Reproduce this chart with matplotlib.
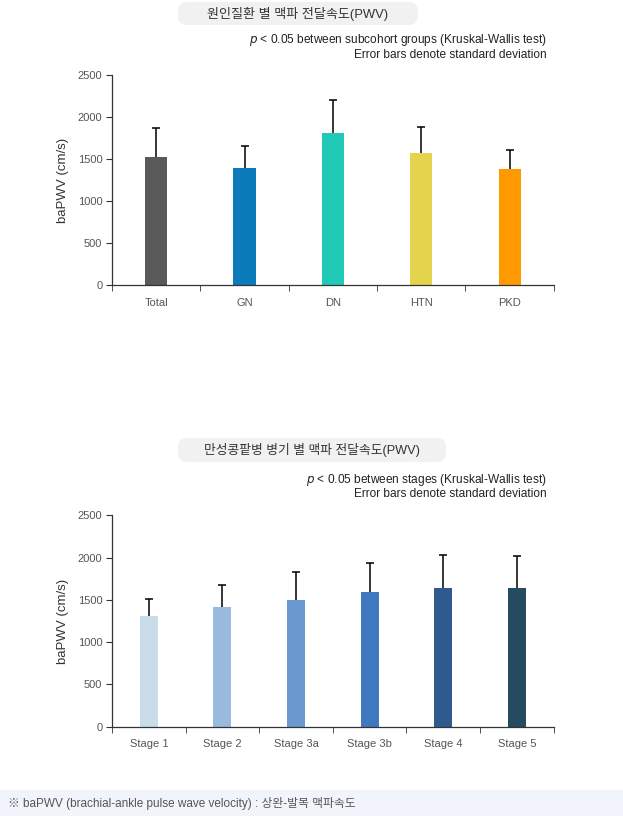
import matplotlib.pyplot as plt
from matplotlib.patches import FancyBboxPatch, Rectangle

plt.rcParams['font.family'] = ['Liberation Sans', 'Noto Sans CJK KR', 'DejaVu Sans']

# subcohort groups
groups = ["Total", "GN", "DN", "HTN", "PKD"]
group_mean = [1520, 1390, 1810, 1570, 1380]
group_sd = [345, 262, 390, 306, 222]
group_colors = ["#595959", "#0b7cb9", "#1fc9b5", "#e4d34c", "#ff9900"]

# CKD stages
stages = ["Stage 1", "Stage 2", "Stage 3a", "Stage 3b", "Stage 4", "Stage 5"]
stage_mean = [1310, 1415, 1500, 1595, 1640, 1640]
stage_sd = [198, 257, 327, 338, 387, 375]
stage_colors = ["#c9dcea", "#99b9de", "#6a98cf", "#3f78c1", "#2f5a8d", "#254b61"]

yticks = [0, 500, 1000, 1500, 2000, 2500]


def bar_panel(ax, labels, means, sds, colors, width):
    x = list(range(len(labels)))
    ax.bar(x, means, width=width, color=colors, zorder=2)
    eb = ax.errorbar(x, means, yerr=[[0] * len(sds), sds], fmt="none",
                     ecolor="black", elinewidth=1.1, capsize=2.8, capthick=1.1, zorder=3)
    # only the upper cap is drawn in the original
    eb.lines[1][0].set_visible(False)
    ax.set_xlim(-0.5, len(labels) - 0.5)
    ax.set_ylim(0, 2500)
    ax.set_yticks(yticks)
    ax.set_xticks(x)
    ax.set_xticklabels(labels)
    ax.set_xticks([i - 0.5 for i in range(len(labels) + 1)], minor=True)
    ax.tick_params(axis="x", which="major", length=0, pad=9)
    ax.tick_params(axis="x", which="minor", length=4, color="#333333")
    ax.tick_params(axis="y", length=4, color="#333333", pad=3)
    ax.tick_params(labelsize=8, labelcolor="#555555")
    for s in ["top", "right"]:
        ax.spines[s].set_visible(False)
    for s in ["left", "bottom"]:
        ax.spines[s].set_color("#333333")
        ax.spines[s].set_linewidth(0.9)
    ax.set_ylabel("baPWV (cm/s)", fontsize=9.5, color="#333333", labelpad=6)


def pill(fig, x0, y0, w, h, text, cx, size):
    W, H = 623, 816
    p = FancyBboxPatch((x0 / W, 1 - (y0 + h) / H), w / W, h / H,
                       boxstyle="round,pad=0,rounding_size=0.015",
                       transform=fig.transFigure, facecolor="#f1f1f1",
                       edgecolor="none", mutation_aspect=W / H)
    fig.patches.append(p)
    fig.text(cx / W, 1 - (y0 + h / 2) / H, text, ha="center", va="center",
             fontsize=size, color="#333333")


fig = plt.figure(figsize=(6.23, 8.16), dpi=100)

ax1 = fig.add_axes([0.1798, 0.6507, 0.709, 0.2574])
bar_panel(ax1, groups, group_mean, group_sd, group_colors, 0.25)

ax2 = fig.add_axes([0.1798, 0.1094, 0.709, 0.259])
bar_panel(ax2, stages, stage_mean, stage_sd, stage_colors, 0.245)

pill(fig, 178, 2, 240, 23, "원인질환 별 맥파 전달속도(PWV)", 298, 9.4)
pill(fig, 178, 438, 268, 24, "만성콩팥병 병기 별 맥파 전달속도(PWV)", 312, 9.2)

notes = [(40, r"$\it{p}$ < 0.05 between subcohort groups (Kruskal-Wallis test)"),
         (55, "Error bars denote standard deviation"),
         (480, r"$\it{p}$ < 0.05 between stages (Kruskal-Wallis test)"),
         (494, "Error bars denote standard deviation")]
for yy, t in notes:
    fig.text(547 / 623, 1 - yy / 816, t, ha="right", va="center",
             fontsize=8.6, color="#222222")

fig.patches.append(Rectangle((0, 0), 1, 26 / 816, transform=fig.transFigure,
                             facecolor="#f1f5fb", edgecolor="none"))
fig.text(8 / 623, 1 - 803 / 816,
         "※ baPWV (brachial-ankle pulse wave velocity) : 상완-발목 맥파속도",
         ha="left", va="center", fontsize=8.5, color="#555555")

fig.savefig("out.png", dpi=100)
